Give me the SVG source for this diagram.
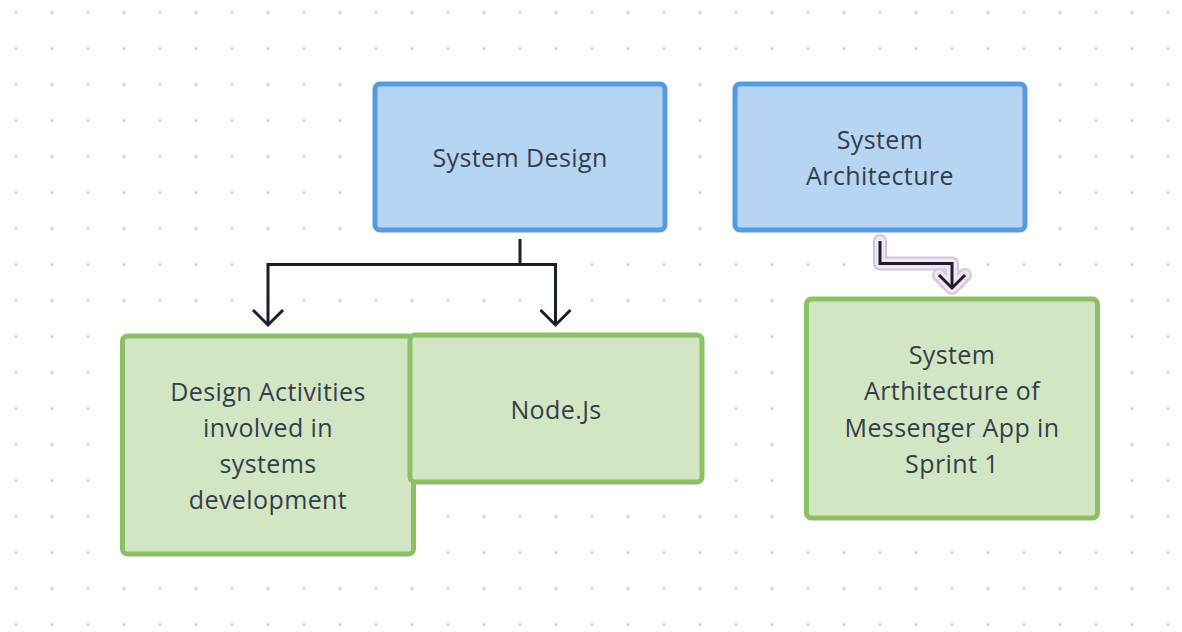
<svg xmlns="http://www.w3.org/2000/svg" width="1182" height="632" viewBox="0 0 1182 632">
  <defs>
    <pattern id="dots" x="0" y="0" width="36" height="36" patternUnits="userSpaceOnUse">
      <circle cx="16" cy="12.5" r="1.5" fill="#cfcfcf"/>
    </pattern>
    <style>
      .blue { fill: #b6d5f2; stroke: #559be0; stroke-width: 5; }
      .green { fill: #d3e6c3; stroke: #8cbf66; stroke-width: 5; }
      .lbl { font-family: "Open Sans", "Noto Sans", sans-serif; font-size: 25px; letter-spacing: 0.4px; fill: #333e4c; text-anchor: middle; }
      .edge { fill: none; stroke: #1b1e2c; stroke-width: 3; stroke-linejoin: miter; }
      .halo1 { fill: none; stroke: #d6c2de; stroke-width: 14; stroke-linecap: round; stroke-linejoin: round; }
      .halo2 { fill: none; stroke: #efe6f2; stroke-width: 10; stroke-linecap: round; stroke-linejoin: round; }
    </style>
  </defs>
  <rect width="1182" height="632" fill="#ffffff"/>
  <rect width="1182" height="632" fill="url(#dots)"/>

  <g id="connectors">
    <path class="edge" d="M520 239 V264.5 H268 V325 M520 264.5 H555.5 V325"/>
    <path class="edge" d="M253 310 L268 325 L283 310"/>
    <path class="edge" d="M540.5 310 L555.5 325 L570.5 310"/>
    <g id="edge-arch">
      <path class="halo1" d="M880 241 V263.5 H952 V288 M939 275 L952 288 L965 275"/>
      <path class="halo2" d="M880 241 V263.5 H952 V288 M939 275 L952 288 L965 275"/>
      <path class="edge" d="M880 241 V263.5 H952 V288"/>
      <path class="edge" d="M939 275 L952 288 L965 275"/>
    </g>
  </g>

  <g id="node-system-design">
    <rect class="blue" x="375" y="84" width="290" height="146" rx="5"/>
    <text class="lbl" x="520" y="167">System Design</text>
  </g>

  <g id="node-system-architecture">
    <rect class="blue" x="735" y="84" width="290" height="146" rx="5"/>
    <text class="lbl" x="880" y="149">System</text>
    <text class="lbl" x="880" y="185">Architecture</text>
  </g>

  <g id="node-design-activities">
    <rect class="green" x="122.5" y="336" width="291" height="218" rx="5"/>
    <text class="lbl" x="268" y="401">Design Activities</text>
    <text class="lbl" x="268" y="437">involved in</text>
    <text class="lbl" x="268" y="473">systems</text>
    <text class="lbl" x="268" y="508.5">development</text>
  </g>

  <g id="node-nodejs">
    <rect class="green" x="410" y="335" width="292" height="147" rx="5"/>
    <text class="lbl" x="556" y="418.5">Node.Js</text>
  </g>

  <g id="node-messenger">
    <rect class="green" x="806.5" y="299" width="291" height="219" rx="5"/>
    <text class="lbl" x="952" y="364">System</text>
    <text class="lbl" x="952" y="400">Arthitecture of</text>
    <text class="lbl" x="952" y="436.5">Messenger App in</text>
    <text class="lbl" x="952" y="472.5">Sprint 1</text>
  </g>
</svg>
